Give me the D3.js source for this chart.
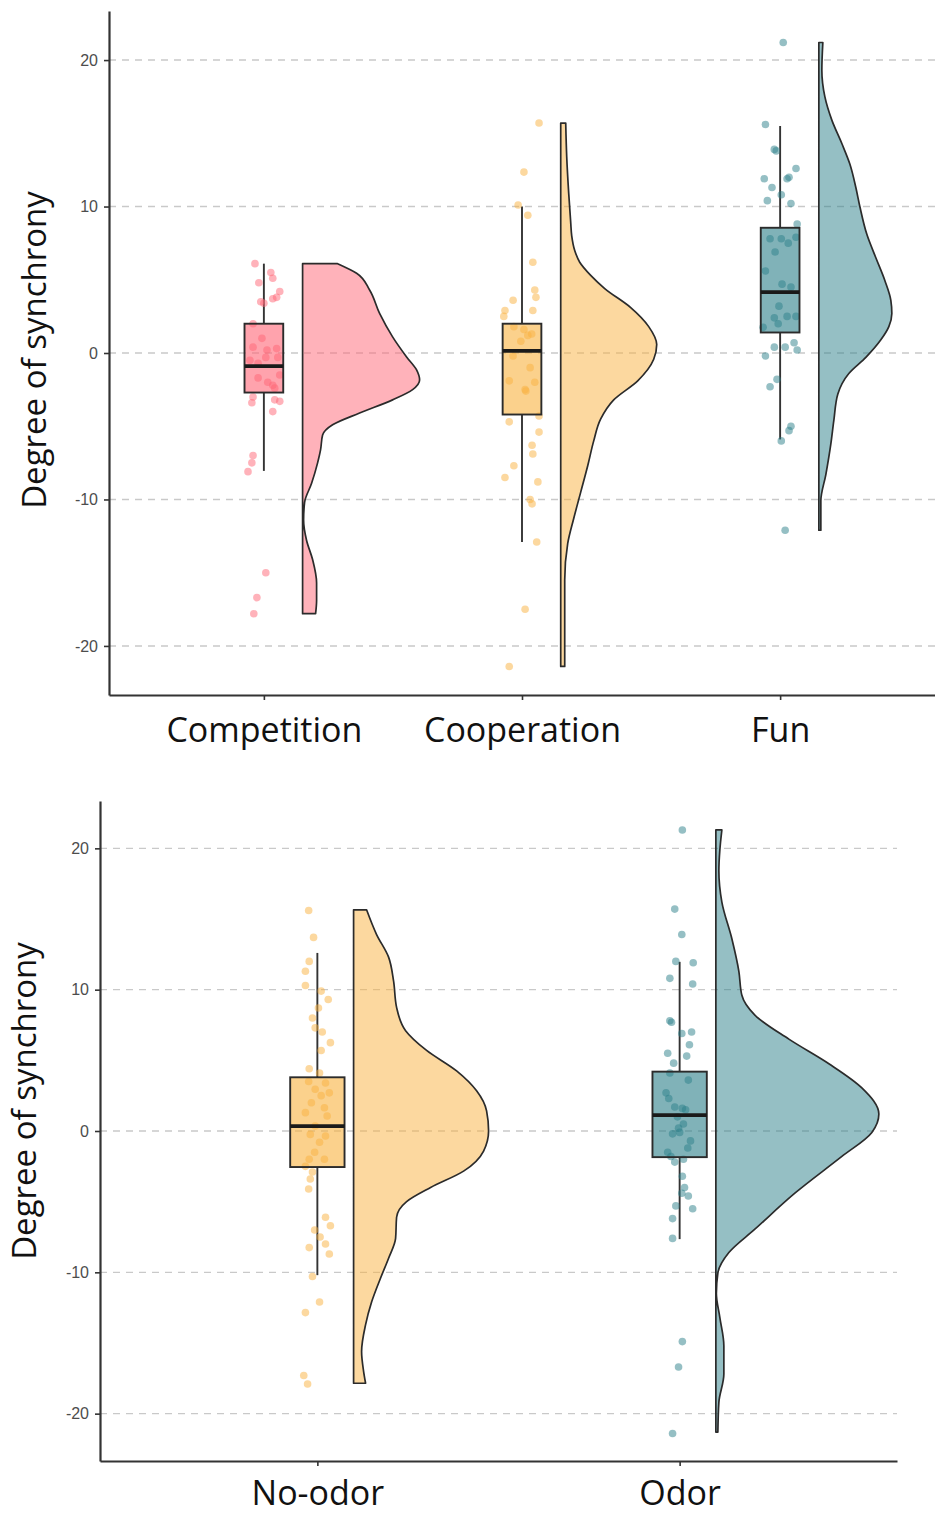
<!DOCTYPE html>
<html>
<head>
<meta charset="utf-8">
<script src="https://cdn.jsdelivr.net/npm/d3@7"></script>
<style>
  body { margin: 0; background: #fff; }
  svg { display: block; }
</style>
</head>
<body>
<svg id="chart" width="935" height="1515"></svg>
<script>
// ---------- data ----------
const topCategories = ["Competition", "Cooperation", "Fun"];
const bottomCategories = ["No-odor", "Odor"];
const yTicks = [-20, -10, 0, 10, 20];

// raw observations: [degree of synchrony, horizontal jitter as fraction of box width]
const competitionPoints = [[6.1,-0.23],[5.5,0.18],[5.1,0.23],[4.8,-0.13],[4.2,0.41],[3.8,0.33],[3.7,0.23],[3.5,-0.08],[3.4,0],[2.0,-0.28],[1.0,-0.05],[0.4,-0.28],[0.3,0.33],[0.2,0.08],[-0.3,0.36],[-0.3,0.05],[-0.5,-0.36],[-0.7,-0.15],[-1.5,0.41],[-1.7,-0.15],[-2.0,0.10],[-2.2,0.23],[-2.4,0.28],[-3.0,-0.28],[-3.2,0.28],[-3.4,-0.31],[-3.3,0.41],[-4.0,0.23],[-7.0,-0.28],[-7.5,-0.31],[-8.1,-0.41],[-15.0,0.05],[-16.7,-0.18],[-17.8,-0.26]];
const cooperationPoints = [[15.7,0.44],[12.35,0.05],[10.1,-0.10],[9.4,0.15],[6.2,0.28],[4.3,0.33],[3.8,0.36],[3.6,-0.23],[2.9,0.28],[2.9,-0.44],[2.5,-0.47],[1.8,-0.21],[1.6,0.05],[1.3,0.25],[1.2,0.15],[0.8,-0.03],[-0.2,-0.23],[-1.0,0.21],[-1.9,-0.33],[-2.0,0.33],[-2.5,0.08],[-2.6,0.10],[-4.3,0.44],[-4.7,-0.33],[-5.4,0.44],[-6.3,0.26],[-6.9,0.28],[-7.7,-0.21],[-8.5,-0.44],[-8.8,0.41],[-10.0,0.21],[-10.3,0.26],[-12.9,0.38],[-17.5,0.08],[-21.4,-0.33]];
const funPoints = [[21.2,0.08],[15.6,-0.38],[13.9,-0.15],[13.8,-0.10],[12.6,0.41],[11.9,-0.41],[12.0,0.23],[11.9,0.18],[11.3,-0.21],[10.8,0.03],[10.4,-0.33],[10.2,0.28],[8.8,0.44],[7.8,-0.26],[7.8,0.03],[7.9,0.41],[7.5,0.21],[6.9,-0.13],[5.6,-0.38],[4.7,0.05],[4.5,0.28],[3.2,-0.03],[2.5,0.18],[2.4,-0.15],[2.5,0.41],[2.0,-0.05],[1.75,-0.44],[0.7,0.36],[0.4,-0.15],[0.4,0.13],[0.2,0.44],[-0.2,-0.38],[-1.8,-0.08],[-2.3,-0.26],[-5.0,0.28],[-5.3,0.23],[-6.0,0.03],[-12.1,0.13]];
const noOdorPoints = [[15.6,-0.16],[13.7,-0.07],[12.0,-0.15],[11.3,-0.22],[10.3,-0.22],[9.9,0.07],[9.3,0.20],[8.7,0.02],[8.0,-0.09],[7.3,-0.04],[7.0,0.09],[6.25,0.24],[5.7,0.07],[4.4,-0.15],[4.1,0.04],[3.5,-0.16],[3.4,0.15],[2.95,-0.04],[2.7,0.22],[2.5,0.07],[2.0,-0.11],[1.65,0.13],[1.3,-0.22],[1.06,0.18],[0.35,-0.04],[-0.24,-0.13],[-0.35,0.15],[-0.8,0.04],[-1.5,-0.05],[-2.0,-0.15],[-2.0,0.13],[-2.5,-0.22],[-2.9,-0.09],[-3.4,-0.13],[-4.1,-0.16],[-6.1,0.15],[-6.7,0.24],[-7.0,-0.05],[-7.5,0.05],[-8.0,0.15],[-8.25,-0.15],[-8.7,0.22],[-10.3,-0.09],[-12.1,0.04],[-12.85,-0.22],[-17.3,-0.25],[-17.9,-0.18]];
const odorPoints = [[21.3,0.05],[15.7,-0.09],[13.9,0.04],[12.0,-0.07],[11.9,0.25],[10.8,-0.18],[10.4,0.24],[7.8,-0.18],[7.7,-0.15],[6.9,0.04],[7.0,0.22],[5.5,-0.22],[4.8,-0.11],[5.3,0.13],[6.1,0.18],[4.1,-0.18],[2.7,-0.25],[2.3,-0.20],[3.6,0.16],[1.7,-0.09],[1.6,0.05],[1.5,0.11],[1.0,-0.04],[0.2,-0.02],[0.5,0.07],[-0.1,0],[-0.2,-0.13],[-0.7,0.20],[-1.2,0.15],[-1.5,-0.22],[-1.8,-0.16],[-2.2,-0.09],[-2.0,0.07],[-3.2,0.05],[-4.0,0.09],[-4.4,0.04],[-4.6,0.16],[-5.3,-0.07],[-5.5,0.24],[-6.2,-0.13],[-7.6,-0.13],[-14.9,0.05],[-16.7,-0.02],[-21.4,-0.13]];

// box statistics: [lower whisker, Q1, median, Q3, upper whisker]
const competitionBox = [-8.05, -2.7, -0.9, 2.0, 6.1];
const cooperationBox = [-12.9, -4.2, 0.15, 2.0, 10.0];
const funBox = [-5.9, 1.4, 4.15, 8.55, 15.5];
const noOdorBox = [-10.2, -2.55, 0.35, 3.8, 12.6];
const odorBox = [-7.65, -1.85, 1.12, 4.2, 11.97];

// half-violin density profiles: evaluation points and density
const competitionViolinY = [6.1, 5.45, 4.3, 2.7, 1.1, -0.27, -1.16, -1.84, -2.5, -3.2, -4.1, -4.9, -5.6, -6.6, -7.5, -8.9, -10.2, -11.4, -12.8, -14.1, -15.7, -16.9, -17.8];
const competitionViolinD = [0.035, 0.054, 0.067, 0.077, 0.090, 0.104, 0.114, 0.117, 0.110, 0.090, 0.057, 0.030, 0.020, 0.018, 0.015, 0.009, 0.002, 0.001, 0.004, 0.010, 0.014, 0.014, 0.013];
const cooperationViolinY = [15.7, 13.4, 10.9, 8.9, 8.0, 7.0, 6.2, 5.3, 4.4, 3.1, 1.8, 0.58, -0.43, -1.9, -3.2, -4.5, -6.0, -7.7, -9.5, -11.3, -13.0, -15.5, -18.1, -21.4];
const cooperationViolinD = [0.005, 0.006, 0.008, 0.010, 0.011, 0.014, 0.019, 0.030, 0.044, 0.070, 0.088, 0.096, 0.093, 0.077, 0.053, 0.040, 0.033, 0.027, 0.020, 0.013, 0.007, 0.004, 0.004, 0.004];
const funViolinY = [21.2, 19.3, 17.5, 15.9, 14.3, 12.9, 11.3, 10.0, 8.1, 6.5, 4.95, 3.6, 2.7, 1.8, 0.9, -0.3, -1.4, -2.8, -4.6, -6.2, -8.3, -10.1, -12.1];
const funViolinD = [0.004, 0.003, 0.006, 0.013, 0.023, 0.031, 0.037, 0.041, 0.048, 0.057, 0.066, 0.072, 0.073, 0.070, 0.062, 0.047, 0.030, 0.019, 0.015, 0.012, 0.007, 0.002, 0.002];
const noOdorViolinY = [15.65, 13.9, 12.3, 10.6, 8.75, 7.1, 5.7, 4.25, 2.84, 1.42, 0, -1.42, -2.84, -4.0, -5.0, -6.1, -7.6, -9.0, -10.4, -12.1, -13.7, -15.6, -17.0, -17.85];
const noOdorViolinD = [0.013, 0.023, 0.035, 0.040, 0.043, 0.052, 0.073, 0.103, 0.123, 0.133, 0.135, 0.130, 0.110, 0.077, 0.053, 0.043, 0.042, 0.035, 0.027, 0.018, 0.012, 0.008, 0.010, 0.012];
const odorViolinY = [21.3, 19.9, 18.4, 16.2, 13.6, 11.3, 9.6, 8.2, 6.5, 4.76, 3.05, 1.2, -0.1, -1.8, -4.4, -6.95, -8.6, -10.05, -11.5, -13.2, -15.2, -17.2, -19.2, -21.3];
const odorViolinD = [0.006, 0.004, 0.003, 0.006, 0.016, 0.023, 0.026, 0.039, 0.073, 0.113, 0.146, 0.163, 0.156, 0.126, 0.079, 0.039, 0.013, 0.002, 0.0005, 0.004, 0.008, 0.008, 0.003, 0.002];

const colorRed = "#ff6676";
const colorOrange = "#f9b23f";
const colorTeal = "#2b7f89";

const topGroups = [
  { cat: "Competition", color: colorRed, points: competitionPoints, box: competitionBox, vy: competitionViolinY, vd: competitionViolinD },
  { cat: "Cooperation", color: colorOrange, points: cooperationPoints, box: cooperationBox, vy: cooperationViolinY, vd: cooperationViolinD },
  { cat: "Fun", color: colorTeal, points: funPoints, box: funBox, vy: funViolinY, vd: funViolinD }
];
const bottomGroups = [
  { cat: "No-odor", color: colorOrange, points: noOdorPoints, box: noOdorBox, vy: noOdorViolinY, vd: noOdorViolinD },
  { cat: "Odor", color: colorTeal, points: odorPoints, box: odorBox, vy: odorViolinY, vd: odorViolinD }
];

// ---------- drawing ----------
const svg = d3.select("#chart");
const yDomain = [-23.35, 23.35];
const densityScale = d3.scaleLinear().domain([0, 0.2]).range([0, 200]);

function drawPanel(cfg) {
  const g = svg.append("g");
  const x = d3.scalePoint().domain(cfg.categories).range([cfg.left, cfg.right]).padding(0.6);
  const y = d3.scaleLinear().domain(yDomain).range([cfg.bottom, cfg.top]);
  const boxW = x.step() * 0.15;
  const nudge = x.step() * cfg.nudge;

  // dashed horizontal grid
  g.append("g").selectAll("line").data(yTicks).join("line")
    .attr("x1", cfg.left).attr("x2", cfg.right)
    .attr("y1", d => y(d)).attr("y2", d => y(d))
    .attr("stroke", "#c9c9c9").attr("stroke-width", 1.4)
    .attr("stroke-dasharray", "7,6");

  cfg.groups.forEach(grp => {
    const cx = x(grp.cat);
    const vx0 = cx + nudge;
    const profile = grp.vy.map((v, i) => ({ v, d: grp.vd[i] }));

    // half violin
    const area = d3.area()
      .y(d => y(d.v))
      .x0(vx0)
      .x1(d => vx0 + densityScale(d.d))
      .curve(d3.curveMonotoneY);
    g.append("path").datum(profile)
      .attr("d", area)
      .attr("fill", grp.color).attr("fill-opacity", 0.5)
      .attr("stroke", "#2b2b2b").attr("stroke-width", 1.7)
      .attr("stroke-linejoin", "round");

    const [lo, q1, med, q3, hi] = grp.box;
    // whiskers
    g.append("line").attr("x1", cx).attr("x2", cx).attr("y1", y(hi)).attr("y2", y(q3))
      .attr("stroke", "#333").attr("stroke-width", 1.9);
    g.append("line").attr("x1", cx).attr("x2", cx).attr("y1", y(q1)).attr("y2", y(lo))
      .attr("stroke", "#333").attr("stroke-width", 1.9);
    // box fill
    g.append("rect")
      .attr("x", cx - boxW / 2).attr("width", boxW)
      .attr("y", y(q3)).attr("height", y(q1) - y(q3))
      .attr("fill", grp.color).attr("fill-opacity", 0.6);

    // jittered observations
    g.append("g").selectAll("circle").data(grp.points).join("circle")
      .attr("cx", d => cx + d[1] * boxW)
      .attr("cy", d => y(d[0]))
      .attr("r", 3.8)
      .attr("fill", grp.color).attr("fill-opacity", 0.5);

    // box outline and median
    g.append("rect")
      .attr("x", cx - boxW / 2).attr("width", boxW)
      .attr("y", y(q3)).attr("height", y(q1) - y(q3))
      .attr("fill", "none").attr("stroke", "#2b2b2b").attr("stroke-width", 1.9);
    g.append("line").attr("x1", cx - boxW / 2).attr("x2", cx + boxW / 2)
      .attr("y1", y(med)).attr("y2", y(med))
      .attr("stroke", "#1a1a1a").attr("stroke-width", 3.8);
  });

  // axes
  const yAxis = g.append("g").attr("transform", `translate(${cfg.left},0)`)
    .call(d3.axisLeft(y).tickValues(yTicks).tickFormat(d => String(d))
      .tickSize(5).tickSizeOuter(0).tickPadding(6));
  yAxis.select(".domain").attr("stroke", "#333").attr("stroke-width", 2.2);
  yAxis.selectAll(".tick line").attr("stroke", "#333").attr("stroke-width", 1.6);
  yAxis.selectAll(".tick text").attr("fill", "#4d4d4d")
    .style("font-family", "'Liberation Sans', Arial, sans-serif").style("font-size", "16px");

  const xAxis = g.append("g").attr("transform", `translate(0,${cfg.bottom})`)
    .call(d3.axisBottom(x).tickSize(5).tickSizeOuter(0).tickPadding(cfg.labelPad));
  xAxis.select(".domain").attr("stroke", "#333").attr("stroke-width", 2.2);
  xAxis.selectAll(".tick line").attr("stroke", "#333").attr("stroke-width", 1.6);
  xAxis.selectAll(".tick text").attr("fill", "#111")
    .style("font-family", "'Open Sans', sans-serif").style("font-size", "34px");

  // y title
  g.append("text")
    .attr("transform", `translate(${cfg.titleX},${cfg.titleY}) rotate(-90)`)
    .attr("text-anchor", "middle")
    .attr("fill", "#111")
    .style("font-family", "'Open Sans', sans-serif").style("font-size", "33px")
    .text("Degree of synchrony");
}

drawPanel({ categories: topCategories, groups: topGroups, left: 109, right: 935, top: 11, bottom: 695, nudge: 0.15, labelPad: 18, titleX: 46, titleY: 350 });
drawPanel({ categories: bottomCategories, groups: bottomGroups, left: 100, right: 897, top: 801, bottom: 1461, nudge: 0.1, labelPad: 15, titleX: 36, titleY: 1101 });
</script>
</body>
</html>
